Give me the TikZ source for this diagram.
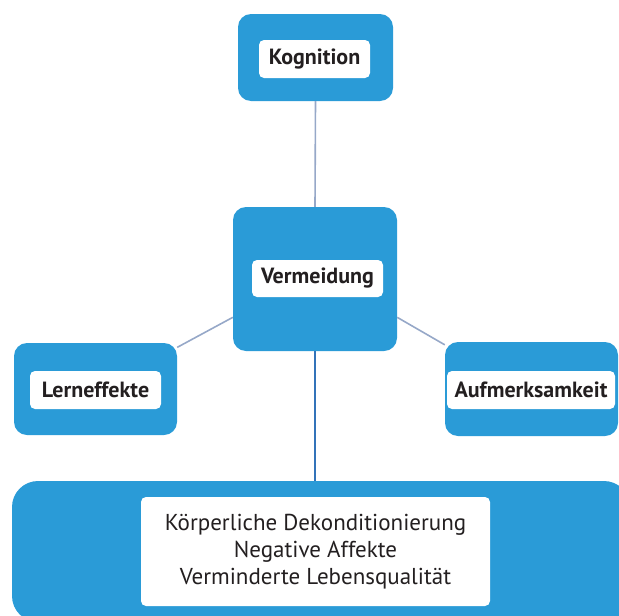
\documentclass[tikz,border=0pt]{standalone}
\usepackage{fontspec}
\setmainfont{PT Sans}
\usepackage{xcolor}
\definecolor{boxblue}{RGB}{42,155,215}
\definecolor{linkgray}{RGB}{150,168,200}
\definecolor{linkblue}{RGB}{50,115,185}
\definecolor{inkdark}{RGB}{35,31,32}

\begin{document}
\begin{tikzpicture}[
    x=1pt, y=-1pt,
    blue box/.style={rectangle, fill=boxblue, draw=none, rounded corners=13pt, inner sep=0pt},
    label box/.style={rectangle, fill=white, rounded corners=5pt, inner sep=0pt, text=inkdark, font=\fontsize{22}{26}\selectfont\bfseries},
    link/.style={draw=linkgray, line width=1.6pt},
]

\useasboundingbox (0,0) rectangle (619,616);

% Boxes around the center
\node[blue box, minimum width=155pt, minimum height=87pt]  (kog)  at (315.5, 57.5) {};
\node[blue box, minimum width=164pt, minimum height=144pt] (verm) at (315, 279)    {};
\node[blue box, minimum width=163pt, minimum height=92pt]  (lern) at (95.5, 389)   {};
\node[blue box, minimum width=173pt, minimum height=94pt]  (auf)  at (531.5, 389)  {};
\node[blue box, rounded corners=26pt, minimum width=618pt, minimum height=141pt] (bot) at (321, 551.5) {};

% White labels
\node[label box, minimum width=111pt, minimum height=38pt] (kogL)  at (314.5, 59)  {Kognition};
\node[label box, minimum width=131pt, minimum height=37pt] (vermL) at (317.5, 278.5) {Vermeidung};
\node[label box, minimum width=131pt, minimum height=38pt] (lernL) at (95.5, 390)  {Lerneffekte};
\node[label box, minimum width=168pt, minimum height=38pt] (aufL)  at (531, 390)   {Aufmerksamkeit};
\node[label box, minimum width=349pt, minimum height=109pt, align=center,
      font=\fontsize{23}{27}\selectfont] (botL) at (315.5, 551.5)
      {Körperliche Dekonditionierung\\Negative Affekte\\Verminderte Lebensqualität};

% Connectors
\draw[link] (kog.south) -- (verm.north);
\draw[link] (verm.205) -- (lern.27);
\draw[link] (verm.335) -- (auf.153);
\draw[link, draw=linkblue] (verm.south) -- (verm.south |- bot.north);

\end{tikzpicture}
\end{document}
